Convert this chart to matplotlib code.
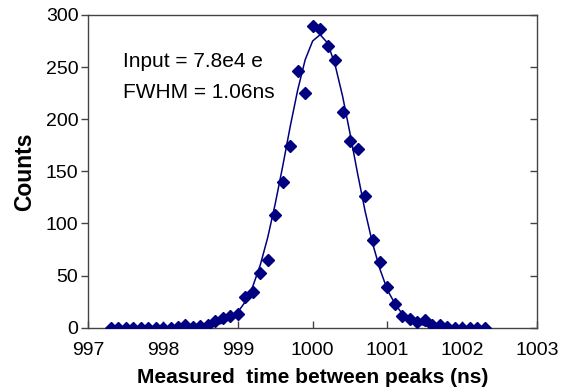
import matplotlib
matplotlib.use("Agg")
import matplotlib.pyplot as plt

# ---- data ----
times = [997.3, 997.4, 997.5, 997.6, 997.7, 997.8, 997.9, 998.0, 998.1, 998.2,
         998.3, 998.4, 998.5, 998.6, 998.7, 998.8, 998.9, 999.0, 999.1, 999.2,
         999.3, 999.4, 999.5, 999.6, 999.7, 999.8, 999.9, 1000.0, 1000.1, 1000.2,
         1000.3, 1000.4, 1000.5, 1000.6, 1000.7, 1000.8, 1000.9, 1001.0, 1001.1, 1001.2,
         1001.3, 1001.4, 1001.5, 1001.6, 1001.7, 1001.8, 1001.9, 1002.0, 1002.1, 1002.2,
         1002.3]

counts = [0, 0, 0, 0, 0, 0, 0, 0, 0, 1,
          3, 1, 2, 3, 6, 9, 11, 13, 29, 34,
          52, 65, 108, 140, 174, 246, 225, 289, 286, 270,
          257, 207, 179, 171, 126, 84, 63, 39, 23, 11,
          8, 5, 7, 3, 3, 1, 0, 0, 0, 0,
          0]

fit_counts = [0, 0, 0, 0, 0, 0, 0, 0, 0, 0,
              0, 0.2, 0.5, 1.2, 2.4, 4.6, 8.5, 14.9, 25.0, 39.7,
              60.2, 86.7, 119, 155, 193, 228, 257, 275, 281, 273,
              252, 222, 186, 148, 112, 81, 56, 36, 23, 13,
              7.6, 4.1, 2.1, 1.0, 0.5, 0.2, 0, 0, 0, 0,
              0]

x_ticks = [997, 998, 999, 1000, 1001, 1002, 1003]
y_ticks = [0, 50, 100, 150, 200, 250, 300]
annot_lines = ["Input = 7.8e4 e", "FWHM = 1.06ns"]
x_label = "Measured  time between peaks (ns)"
y_label = "Counts"

# ---- figure ----
plt.rcParams['font.family'] = ['Liberation Sans', 'DejaVu Sans']
navy = '#000080'
frame = '#444444'

fig = plt.figure(figsize=(5.69, 3.92), dpi=100)
ax = fig.add_axes([0.155, 0.164, 0.789, 0.798])

ax.plot(times, fit_counts, '-', color=navy, lw=1.1, zorder=2)
ax.plot(times, counts, 'D', color=navy, ms=6.5, mec=navy, zorder=3, linestyle='none')

ax.set_xlim(997, 1003)
ax.set_ylim(0, 300)
ax.set_xticks(x_ticks)
ax.set_yticks(y_ticks)
ax.set_xticklabels([str(v) for v in x_ticks])
ax.set_yticklabels([str(v) for v in y_ticks])

for s in ax.spines.values():
    s.set_color(frame)
    s.set_linewidth(1.0)

ax.tick_params(axis='x', direction='in', length=5, width=1, color=frame,
               labelsize=14, pad=10, top=False)
ax.tick_params(axis='y', direction='out', length=5, width=1, color=frame,
               labelsize=14, pad=2, right=False)

ax2 = ax.twinx()
ax2.set_ylim(0, 300)
ax2.set_yticks(y_ticks)
ax2.tick_params(axis='y', direction='in', length=5, width=1, color=frame,
                labelright=False)
for s in ax2.spines.values():
    s.set_visible(False)

ax.set_xlabel(x_label, fontsize=15, fontweight='bold', labelpad=7)
ax.set_ylabel(y_label, fontsize=16.5, fontweight='bold', labelpad=7)

ax.text(0.077, 0.834, annot_lines[0], transform=ax.transAxes, fontsize=15,
        va='baseline', ha='left')
ax.text(0.077, 0.735, annot_lines[1], transform=ax.transAxes, fontsize=15,
        va='baseline', ha='left')

fig.savefig('out.png', dpi=100)
